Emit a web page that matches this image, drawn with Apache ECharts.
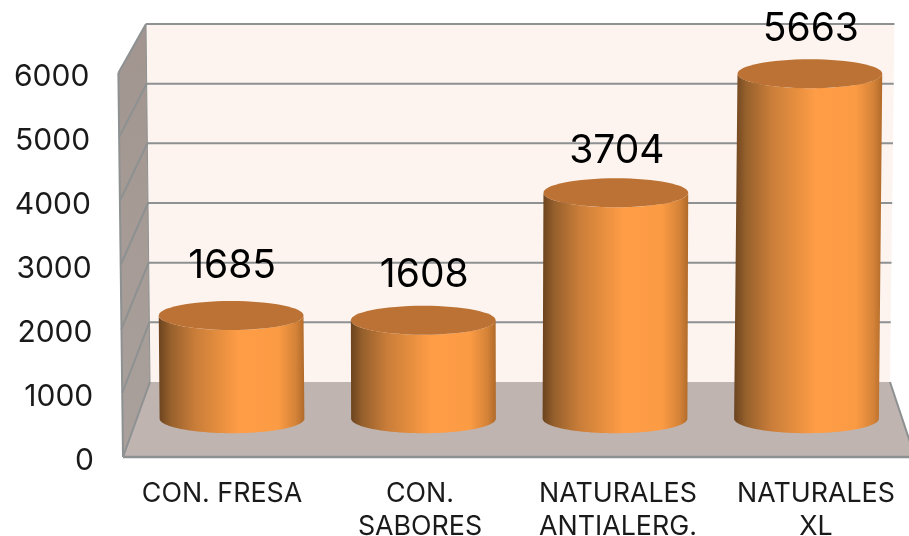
<!DOCTYPE html>
<html>
<head>
<meta charset="utf-8">
<style>html,body{margin:0;padding:0;background:#fff}#c{width:909px;height:536px}</style>
<script src="https://cdn.jsdelivr.net/npm/echarts@6/dist/echarts.min.js"></script>
</head>
<body>
<div id="c"></div>
<script>
const categories = ['CON. FRESA', 'CON.\nSABORES', 'NATURALES\nANTIALERG.', 'NATURALES\nXL'];
const values = [1685, 1608, 3704, 5663];
const yTicks = [0, 1000, 2000, 3000, 4000, 5000, 6000];

const W = 909, H = 536, LEAN = 3.2e-5, LEAN_X = 500;
const FONT = 'Inter, "Noto Sans", sans-serif';
const BACK = {left: 150, width: 740, top: 24, height: 358};
const FRONT = {left: 123, width: 792, top: 73, height: 384};
const BARS = {left: 136.25, width: 766, top: 53.2, height: 364.8};
const LABEL_GAPS = [50, 46, 43, 45];
const lean = (x, y, base) => x + (x - LEAN_X) * LEAN * (base - y);
const gridOf = g => ({left: g.left, right: W - g.left - g.width, top: g.top, bottom: H - g.top - g.height, show: false, outerBoundsMode: 'none'});

const chart = echarts.init(document.getElementById('c'), null, {renderer: 'canvas'});
const EDGE = '#8e9192';

function renderWalls(params, api) {
  const v = api.value(1);
  const backB = BACK.top + BACK.height, frontB = FRONT.top + FRONT.height;
  const by = chart.convertToPixel({yAxisIndex: 0}, v);
  const fy = chart.convertToPixel({yAxisIndex: 1}, v);
  const bl = lean(BACK.left, by, backB), br = lean(BACK.left + BACK.width, by, backB);
  const fl = lean(FRONT.left, fy, frontB);
  const children = [];
  const line = (x1, y1, x2, y2, w) => ({type: 'line', z2: 5, shape: {x1, y1, x2, y2},
    style: {stroke: EDGE, lineWidth: w || 2, fill: null}});
  if (params.dataIndex === 0) {
    const tb = BACK.top, tf = FRONT.top;
    const tl = lean(BACK.left, tb, backB), tr = lean(BACK.left + BACK.width, tb, backB);
    const ftl = lean(FRONT.left, tf, frontB);
    children.push({type: 'polygon', z2: 1, shape: {points: [[tl, tb], [tr, tb], [br, by], [bl, by]]},
      style: {fill: '#fdf4ef'}});
    children.push({type: 'polygon', z2: 2, shape: {points: [[ftl, tf], [tl, tb], [bl, by], [fl, fy]]},
      style: {fill: new echarts.graphic.LinearGradient(0, 0, 1, 1, [
        {offset: 0, color: '#a2958f'}, {offset: 1, color: '#aaa19c'}])}});
    children.push({type: 'polygon', z2: 3, shape: {points: [[bl, by], [br, by], [FRONT.left + FRONT.width, fy], [fl, fy]]},
      style: {fill: '#bfb4b0'}});
    children.push(line(ftl, tf, fl, fy));
    children.push(line(bl, by, fl, fy));
    children.push(line(br, by, FRONT.left + FRONT.width, fy));
    children.push(line(fl, fy, FRONT.left + FRONT.width, fy, 2.5));
    children.push(line(tl, tb, bl, by, 1));
  } else {
    children.push(line(bl, by, br, by));
    children.push(line(bl, by, fl, fy));
  }
  return {type: 'group', children};
}

function renderBar(params, api) {
  const base = api.coord([api.value(0), 0]);
  const top = api.coord([api.value(0), api.value(1)]);
  const rx = api.size([1, 0])[0] * 0.378, ry = rx * 0.2;
  const tx = lean(base[0], top[1], base[1]);
  const pts = [];
  const N = 48;
  for (let i = 0; i <= N; i++) {
    const a = Math.PI * i / N;
    pts.push([base[0] - rx * Math.cos(a), base[1] + 0.7 + ry * Math.sin(a)]);
  }
  for (let i = 0; i <= N; i++) {
    const a = Math.PI * i / N;
    pts.push([tx + rx * Math.cos(a), top[1] + ry * Math.sin(a)]);
  }
  const body = new echarts.graphic.LinearGradient(0, 0, 1, 0, [
    {offset: 0, color: '#6b431f'},
    {offset: 0.08, color: '#96602c'},
    {offset: 0.25, color: '#c97d39'},
    {offset: 0.45, color: '#ec9240'},
    {offset: 0.55, color: '#ff9d47'},
    {offset: 0.82, color: '#fb9b44'},
    {offset: 0.94, color: '#d58338'},
    {offset: 1, color: '#b06a2a'}
  ]);
  return {type: 'group', children: [
    {type: 'polygon', z2: 10, shape: {points: pts}, style: {fill: body}},
    {type: 'ellipse', z2: 11, shape: {cx: tx, cy: top[1], rx, ry}, style: {fill: '#bb7234'}},
    {type: 'text', z2: 20, style: {text: String(api.value(1)), x: tx + 1, y: top[1] - LABEL_GAPS[params.dataIndex] + 1, align: 'center', verticalAlign: 'middle',
      font: '39px ' + FONT, fill: '#000'}}
  ]};
}

const tickRich = {};
yTicks.forEach(t => {
  const y = FRONT.top + FRONT.height * (1 - t / 6000);
  tickRich['t' + t] = {padding: [7, (FRONT.left - LEAN_X) * -LEAN * (FRONT.top + FRONT.height - y), 0, 0],
    fontSize: 30, fontFamily: FONT, color: '#1a1a1a'};
});

const hiddenY = {type: 'value', min: 0, max: 6000, interval: 1000, show: false};
const hiddenX = {type: 'category', data: categories, show: false};
chart.setOption({
  animation: false,
  backgroundColor: '#fff',
  grid: [gridOf(BACK), gridOf(FRONT), gridOf(BARS)],
  xAxis: [
    Object.assign({gridIndex: 0}, hiddenX),
    {gridIndex: 1, type: 'category', data: categories,
      axisLine: {show: false}, axisTick: {show: false},
      axisLabel: {interval: 0, margin: 20, fontSize: 26.8, lineHeight: 33, fontFamily: FONT, color: '#1a1a1a', hideOverlap: false}},
    Object.assign({gridIndex: 2}, hiddenX)
  ],
  yAxis: [
    Object.assign({gridIndex: 0}, hiddenY),
    {gridIndex: 1, type: 'value', min: 0, max: 6000, interval: 1000,
      axisLine: {show: false}, axisTick: {show: false}, splitLine: {show: false},
      axisLabel: {margin: 29, formatter: v => '{t' + v + '|' + v + '}', rich: tickRich, fontSize: 30, fontFamily: FONT}},
    Object.assign({gridIndex: 2}, hiddenY)
  ],
  series: [
    {type: 'custom', name: 'walls', xAxisIndex: 0, yAxisIndex: 0, z: 1, silent: true, clip: false,
      renderItem: renderWalls, data: yTicks.map(t => [0, t]), encode: {x: 0, y: 1}},
    {type: 'custom', name: 'values', xAxisIndex: 2, yAxisIndex: 2, z: 5, silent: true, clip: false,
      renderItem: renderBar, data: values.map((v, i) => [i, v]), encode: {x: 0, y: 1}}
  ]
});
</script>
</body>
</html>
